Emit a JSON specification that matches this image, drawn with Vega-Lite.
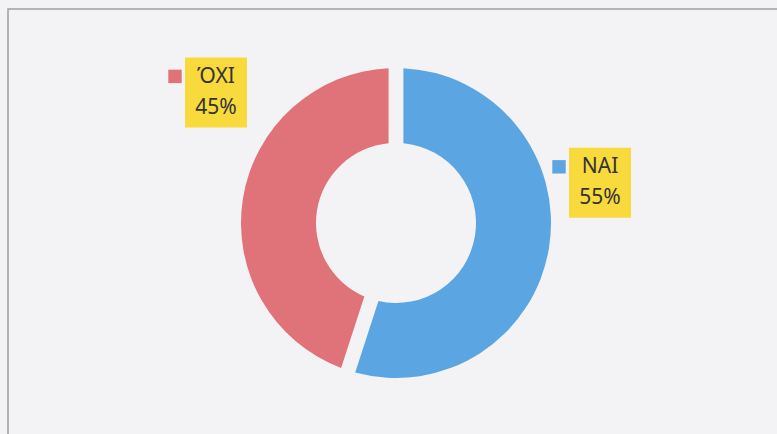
{
  "$schema": "https://vega.github.io/schema/vega-lite/v6.json",
  "width": 776,
  "height": 428,
  "autosize": "none",
  "padding": {"left": 8, "top": 9, "right": 0, "bottom": 0},
  "background": "#f3f3f5",
  "config": {"view": {"stroke": "#a39ea0", "strokeWidth": 1.5, "fill": "#f3f3f5"}},
  "data": {
    "values": [
      {"answer": "ΌΧΙ", "pct": 45, "label": "ΌΧΙ\n45%"},
      {"answer": "ΝΑΙ", "pct": 55, "label": "ΝΑΙ\n55%"}
    ]
  },
  "layer": [
    {
      "mark": {"type": "arc", "innerRadius": 80, "outerRadius": 155, "padAngle": 0.085},
      "encoding": {
        "theta": {"field": "pct", "type": "quantitative", "stack": true},
        "order": {"field": "answer", "sort": "descending"},
        "color": {
          "field": "answer",
          "type": "nominal",
          "scale": {"domain": ["ΝΑΙ", "ΌΧΙ"], "range": ["#5ba5e2", "#e07279"]},
          "legend": null
        }
      }
    },
    {
      "encoding": {
        "x": {
          "field": "answer",
          "type": "nominal",
          "sort": ["ΌΧΙ", "ΝΑΙ"],
          "axis": null,
          "scale": {"paddingInner": 0.0417, "paddingOuter": 0.03125, "align": 1}
        },
        "y": {
          "field": "answer",
          "type": "nominal",
          "axis": null,
          "scale": {"domain": ["ΌΧΙ", "ΝΑΙ", " "], "paddingInner": 0, "paddingOuter": 0.8667, "align": 0.2436}
        }
      },
      "layer": [
        {
          "mark": {"type": "rect", "width": 62, "height": 70, "color": "#f8da3c"}
        },
        {
          "mark": {"type": "point", "shape": "square", "filled": true, "opacity": 1, "size": 180, "xOffset": -41, "yOffset": -16, "strokeWidth": 0},
          "encoding": {
            "color": {"field": "answer", "type": "nominal", "legend": null}
          }
        },
        {
          "mark": {"type": "text", "lineBreak": "\n", "font": "Noto Sans", "fontSize": 21, "lineHeight": 31, "dy": -15.5, "color": "#333333", "align": "center", "baseline": "middle"},
          "encoding": {
            "text": {"field": "label", "type": "nominal"}
          }
        }
      ]
    }
  ]
}
